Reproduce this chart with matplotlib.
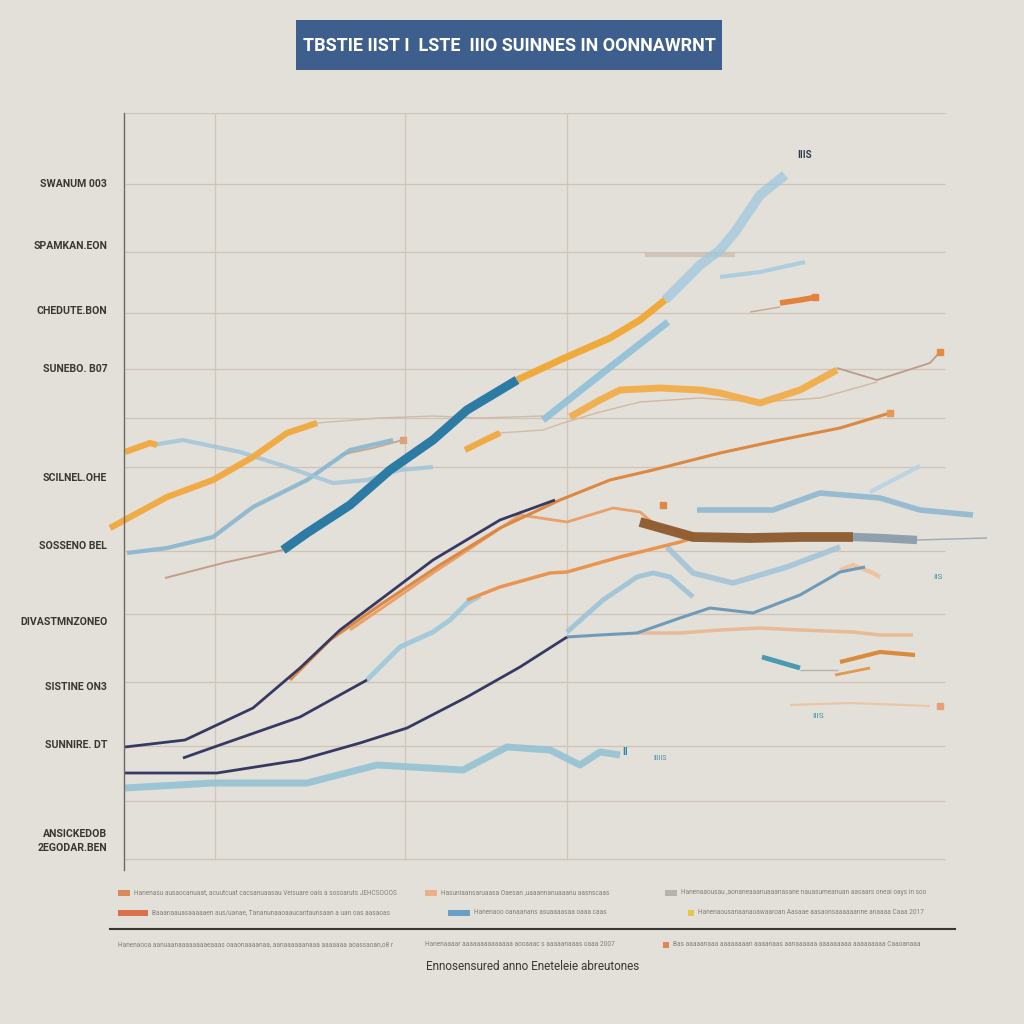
import matplotlib.pyplot as plt
from matplotlib.patches import Rectangle
from matplotlib.lines import Line2D
import logging
logging.getLogger('matplotlib.font_manager').setLevel(logging.ERROR)

bg = '#e3dfd9'
plt.rcParams['font.family'] = ['DejaVu Sans Condensed', 'Roboto', 'DejaVu Sans']

# ---- data (x: 0..88, y: 0..75.7) ----
grid_y = [75.7, 68.6, 61.8, 55.7, 50.1, 45.2, 40.3, 31.9, 25.6, 18.8, 12.4, 6.9, 1.1]
grid_x = [11.0, 30.0, 46.2]

tick_y = [68.7, 62.5, 56.0, 50.2, 39.3, 32.5, 24.9, 18.4, 12.6, 3.2]
tick_labels = ['SWANUM 003', 'SPAMKAN.EON', 'CHEDUTE.BON', 'SUNEBO. B07',
               'SCILNEL.OHE', 'SOSSENO BEL', 'DIVASTMNZONEO', 'SISTINE ON3',
               'SUNNIRE. DT', 'ANSICKEDOB\n2EGODAR.BEN']

title = 'TBSTIE IIST I  LSTE  IIIO SUINNES IN OONNAWRNT'
xlabel = 'Ennosensured anno Eneteleie abreutones'

navy_a = [(2.0, 12.3), (8.0, 13.0), (14.8, 16.2), (19.5, 20.2), (23.5, 24.0), (32.8, 31.0), (39.5, 35.0), (45.0, 37.0)]
orange_a = [(18.5, 19.0), (22.5, 23.0), (27.5, 26.5), (33.5, 30.5), (39.5, 34.2), (45.5, 37.0), (50.5, 39.0),
            (54.8, 40.0), (61.5, 41.7), (67.5, 43.0), (73.5, 44.2), (78.5, 45.7)]
orange_b = [(24.5, 24.0), (32.8, 29.7), (37.8, 33.0), (41.5, 35.5), (46.2, 34.8), (50.8, 36.2), (53.5, 35.8),
            (54.8, 34.7), (58.8, 33.3)]
brown_band = [(53.5, 34.8), (58.8, 33.3), (64.5, 33.2), (69.5, 33.3), (74.8, 33.3)]
slate_band = [(74.8, 33.3), (77.5, 33.2), (81.2, 33.0)]
gray_tail = [(81.2, 33.0), (88.2, 33.2)]
orange_c = [(36.2, 27.0), (39.5, 28.3), (44.5, 29.7), (46.2, 29.8), (51.5, 31.3), (57.5, 32.8), (58.8, 33.2)]
navy_b = [(7.8, 11.2), (11.2, 12.4), (19.5, 15.3), (26.2, 19.0)]
sky_b = [(26.2, 19.0), (29.5, 22.3), (32.8, 23.8), (34.5, 25.0), (36.2, 26.7), (37.5, 27.4)]
sky_hump = [(46.2, 23.8), (49.8, 27.0), (53.2, 29.3), (54.8, 29.7), (56.5, 29.3), (58.8, 27.3)]
navy_c = [(2.0, 9.7), (11.2, 9.7), (19.5, 11.0), (25.5, 12.7), (30.2, 14.2), (36.2, 17.3), (41.5, 20.3), (46.2, 23.3)]
steel_c = [(46.2, 23.3), (49.5, 23.5), (53.2, 23.7), (57.5, 25.2), (60.5, 26.2), (64.8, 25.7), (69.5, 27.5),
           (73.5, 29.8), (76.0, 30.3)]
peach_hump = [(73.5, 30.0), (74.8, 30.5), (76.8, 29.7), (77.5, 29.3)]
peach_c = [(53.2, 23.7), (57.5, 23.7), (61.5, 24.0), (65.5, 24.2), (69.5, 24.0), (74.8, 23.8), (77.5, 23.5), (80.8, 23.5)]
sky_low = [(2.0, 8.2), (10.8, 8.7), (20.2, 8.7), (27.2, 10.5), (35.8, 10.0), (40.2, 12.3), (44.5, 12.0),
           (47.5, 10.5), (49.5, 11.8), (51.5, 11.5)]
sky_a0 = [(2.2, 31.7), (6.2, 32.2), (10.8, 33.3), (14.8, 36.3), (20.2, 39.0), (24.5, 42.0), (28.8, 43.0)]
thin_a0 = [(23.5, 41.5), (26.8, 42.2), (29.8, 43.0)]
thin_lead = [(6.0, 29.2), (12.2, 30.8), (17.8, 32.0)]
teal_main = [(17.8, 32.0), (20.2, 33.7), (24.5, 36.5), (28.5, 40.0), (32.8, 43.0), (36.2, 46.0), (41.2, 49.0)]
gold_main = [(41.2, 49.0), (45.5, 51.0), (50.5, 53.2), (53.5, 55.0), (56.0, 57.0)]
ice_main = [(56.0, 57.0), (59.5, 60.5), (61.5, 62.0), (63.0, 63.8), (65.5, 67.5), (68.0, 69.5)]
gold_b = [(0.5, 34.2), (6.2, 37.3), (10.8, 39.0), (14.8, 41.3), (18.2, 43.7), (21.2, 44.7)]
thin_b = [(21.2, 44.7), (27.5, 45.2), (32.8, 45.4), (37.5, 45.2), (43.8, 45.4)]
gold_stub = [(2.0, 41.8), (4.5, 42.7), (5.2, 42.5)]
sky_b3 = [(4.8, 42.5), (7.8, 43.0), (13.5, 41.8), (18.2, 40.3), (22.8, 38.7), (26.2, 39.0), (29.5, 40.0), (32.8, 40.3)]
gold_c = [(36.0, 42.0), (38.0, 43.0), (39.5, 43.7)]
thin_c = [(39.5, 43.7), (43.8, 44.0), (45.8, 44.7)]
sky_d = [(43.8, 45.0), (49.5, 49.5), (56.3, 54.8)]
gold_e = [(46.5, 45.3), (49.5, 47.0), (51.5, 48.0), (55.5, 48.2), (59.5, 48.0), (61.5, 47.7), (65.5, 46.7),
          (69.5, 48.0), (73.2, 50.0)]
thin_e = [(73.2, 50.2), (77.2, 49.0), (82.5, 50.7), (83.5, 51.8)]
thin_t = [(45.8, 44.7), (49.5, 45.8), (53.5, 46.8), (59.5, 47.2), (65.5, 46.8), (71.5, 47.2), (77.2, 48.8)]
sky_g = [(59.2, 36.0), (63.5, 36.0), (66.8, 36.0), (71.5, 37.7), (77.5, 37.2), (81.5, 36.0), (86.8, 35.5)]
sky_g2 = [(76.5, 37.8), (81.5, 40.4)]
sky_i = [(56.2, 32.3), (58.8, 29.7), (62.8, 28.7), (68.2, 30.3), (73.5, 32.3)]
ice_small = [(61.5, 59.3), (65.5, 59.8), (70.0, 60.8)]
orange_small = [(67.5, 56.7), (69.5, 57.0), (71.2, 57.3)]
thin_small = [(64.5, 55.8), (67.5, 56.3)]
gray_band = [(54.0, 61.5), (63.0, 61.5)]
peach_low = [(68.5, 16.5), (74.5, 16.7), (82.5, 16.4)]
teal_arrow = [(65.7, 21.3), (69.5, 20.2)]
gray_link = [(69.5, 20.0), (73.3, 20.0)]
amber_low = [(73.5, 20.8), (77.5, 21.8), (81.0, 21.5)]
amber_low2 = [(73.0, 19.5), (76.5, 20.2)]

end_markers = [(29.8, 43.0, '#d9a27c'), (78.5, 45.7, '#e39a55'), (83.5, 51.8, '#e38a45'),
               (83.5, 16.4, '#e8a07a'), (55.8, 36.5, '#dc8a40'), (71.0, 57.3, '#e3823a')]

# (series, colour, width, alpha)
series = [
    (gray_band, '#cdbfb0', 3, 0.8), (thin_b, '#cbbcae', 1.0, 1), (thin_a0, '#c4a994', 1.4, 1),
    (thin_t, '#d2b8a0', 1.0, 1), (thin_c, '#d2bca5', 1.0, 1), (thin_e, '#bb9c8a', 1.3, 1),
    (thin_lead, '#c49e86', 1.4, 1), (thin_small, '#c9a68e', 1.0, 1), (gray_link, '#b9b3ae', 1.0, 1),
    (gray_tail, '#9aa8b5', 1.0, 1),
    (sky_low, '#90c1d4', 5, 0.85), (sky_a0, '#86b6cf', 3, 0.9), (sky_b3, '#9fc4d9', 3, 0.8),
    (sky_b, '#9cc8da', 3.5, 0.9), (sky_hump, '#9cc3d8', 3.5, 0.9), (sky_d, '#8fc0d8', 5, 0.9),
    (sky_g, '#8fb8cf', 4, 0.9), (sky_g2, '#b7d3e2', 3, 0.9), (sky_i, '#a3c5d8', 4, 0.9),
    (ice_main, '#9ec8de', 7, 0.75), (ice_small, '#a9cde0', 3, 0.9),
    (peach_c, '#e9b691', 2.5, 0.9), (peach_hump, '#efc09a', 3, 0.9), (peach_low, '#ebc4a8', 1.5, 1),
    (gold_b, '#f1ab44', 4.5, 1), (gold_stub, '#f1ab44', 4.5, 1), (gold_c, '#f1ab44', 4.5, 1),
    (gold_e, '#f1ae4a', 5, 0.95), (gold_main, '#f0aa3c', 5, 1),
    (teal_main, '#2c7ba4', 6.5, 1),
    (orange_c, '#e99550', 2.5, 1), (orange_b, '#e9a06a', 2, 1),
    (brown_band, '#8c5a2e', 7, 0.95), (slate_band, '#7a8fa2', 6, 0.8),
    (steel_c, '#6f9bb8', 2.2, 1), (navy_c, '#363a62', 2, 1), (navy_b, '#363a62', 2, 1),
    (orange_a, '#dd8840', 2.2, 1), (navy_a, '#363a62', 2, 1),
    (orange_small, '#e3823a', 4, 1), (teal_arrow, '#4a9ab0', 3.5, 1),
    (amber_low, '#d98a3a', 3, 1), (amber_low2, '#e09a50', 2, 1),
]

fig = plt.figure(figsize=(10.24, 10.24), dpi=100, facecolor=bg)
ax = fig.add_axes([124 / 1024, 154 / 1024, 861 / 1024, 757 / 1024])
ax.set_facecolor(bg)
ax.set_xlim(1.9, 88)
ax.set_ylim(0, 75.7)

ax.hlines(grid_y, 2.0, 84.0, color='#cfc3b3', lw=0.9, zorder=0)
ax.vlines(grid_x, 1.0, 75.7, color='#d2c6b6', lw=0.9, zorder=0)

for pts, col, lw, a in series:
    xs = [p[0] for p in pts]
    ys = [p[1] for p in pts]
    ax.plot(xs, ys, color=col, lw=lw, alpha=a, solid_capstyle='butt', clip_on=False, zorder=2)

for mx, my, mc in end_markers:
    ax.plot(mx, my, 's', ms=5, color=mc, clip_on=False, zorder=3)

for s in ['top', 'right', 'bottom']:
    ax.spines[s].set_visible(False)
ax.spines['left'].set_color('#6f6962')
ax.spines['left'].set_linewidth(1.0)
ax.set_xticks([])
ax.set_yticks(tick_y)
ax.set_yticklabels(tick_labels, fontsize=7.6, fontweight='bold', color='#3b3631', linespacing=1.5)
ax.tick_params(axis='y', length=0, pad=12)

# small stray labels
ax.text(70.0, 71.5, 'IIIS', fontsize=7, fontweight='bold', color='#2e3a4e', ha='center', va='center')
ax.text(83.3, 29.3, 'IIS', fontsize=6, color='#3f93ab', ha='center', va='center')
ax.text(71.3, 15.4, 'IIIS', fontsize=6, color='#3f93ab', ha='center', va='center')
ax.text(52.0, 11.8, 'II', fontsize=7, fontweight='bold', color='#2d86b0', ha='center', va='center')
ax.text(55.5, 11.2, 'IIIIIS', fontsize=5, color='#3f93ab', ha='center', va='center')

# title box
fig.add_artist(Rectangle((296 / 1024, 1 - 70 / 1024), 426 / 1024, 50 / 1024,
                         transform=fig.transFigure, facecolor='#3e5e8e', edgecolor='none'))
fig.text(509 / 1024, 1 - 46 / 1024, title, ha='center', va='center', color='white',
         fontsize=13, fontweight='bold')

# legend-like footer
leg_col = '#857f77'
rows = [
    (893, [(118, '#d98a5a', 12, 'Hanenasu ausaocanuaat, acuutcuat cacsanuaasau Veisuare oais a sosoaruts JEHCSOOOS'),
           (425, '#e9b08a', 12, 'Hasuniaansaruaasa Oaesan ,uaaannanuaaanu aasnscaas'),
           (665, '#b9b2aa', 12, 'Hanenaaousau ,aonaneaaanuaaanasane nauasumeanuan aasaars oneai oays in soo')]),
    (913, [(118, '#d9704a', 30, 'Baaanaauasaaaaaen aus/uanae, Tananunaaoaaucantaunsaan a uan oas aasaoas'),
           (448, '#6b9ec4', 22, 'Hanenaoo oanaanans asuaaaasaa oaaa caas'),
           (688, '#e8c840', 6, 'Hanenaousanaanaoawaaroan Aasaae aasaonsaaaaaanne anaaaa Caaa 2017')]),
    (945, [(118, None, 0, 'Hanenaooa aanuaanaaaaaaaaeaaas oaaonaaaanaa, aanaaaaaanaaa aaaaaaa aoassaoan,o8 r'),
           (425, None, 0, 'Hanenaaaar aaaaaaaaaaaaaa aooaaac s aaaaanaaas oaaa 2007'),
           (663, '#e0845a', 6, 'Bas aaaaanaaa aaaaaaaan aaaanaas aanaaaaaa aaaaaaaaa aaaaaaaaa Caaoanaaa')]),
]
for ry, cols in rows:
    for cx, scol, sw, txt in cols:
        tx = cx
        if scol is not None:
            fig.add_artist(Rectangle((cx / 1024, 1 - (ry + 3) / 1024), sw / 1024, 6 / 1024,
                                     transform=fig.transFigure, facecolor=scol, edgecolor='none'))
            tx = cx + sw + 4
        fig.text(tx / 1024, 1 - ry / 1024, txt, fontsize=4.7, color=leg_col, ha='left', va='center')

fig.add_artist(Line2D([110 / 1024, 955 / 1024], [1 - 929 / 1024, 1 - 929 / 1024],
                      transform=fig.transFigure, color='#3b3631', lw=1.5))
fig.text(533 / 1024, 1 - 966 / 1024, xlabel, fontsize=8.5, color='#3b3631', ha='center', va='center')

fig.savefig('out.png', dpi=100, facecolor=bg)
